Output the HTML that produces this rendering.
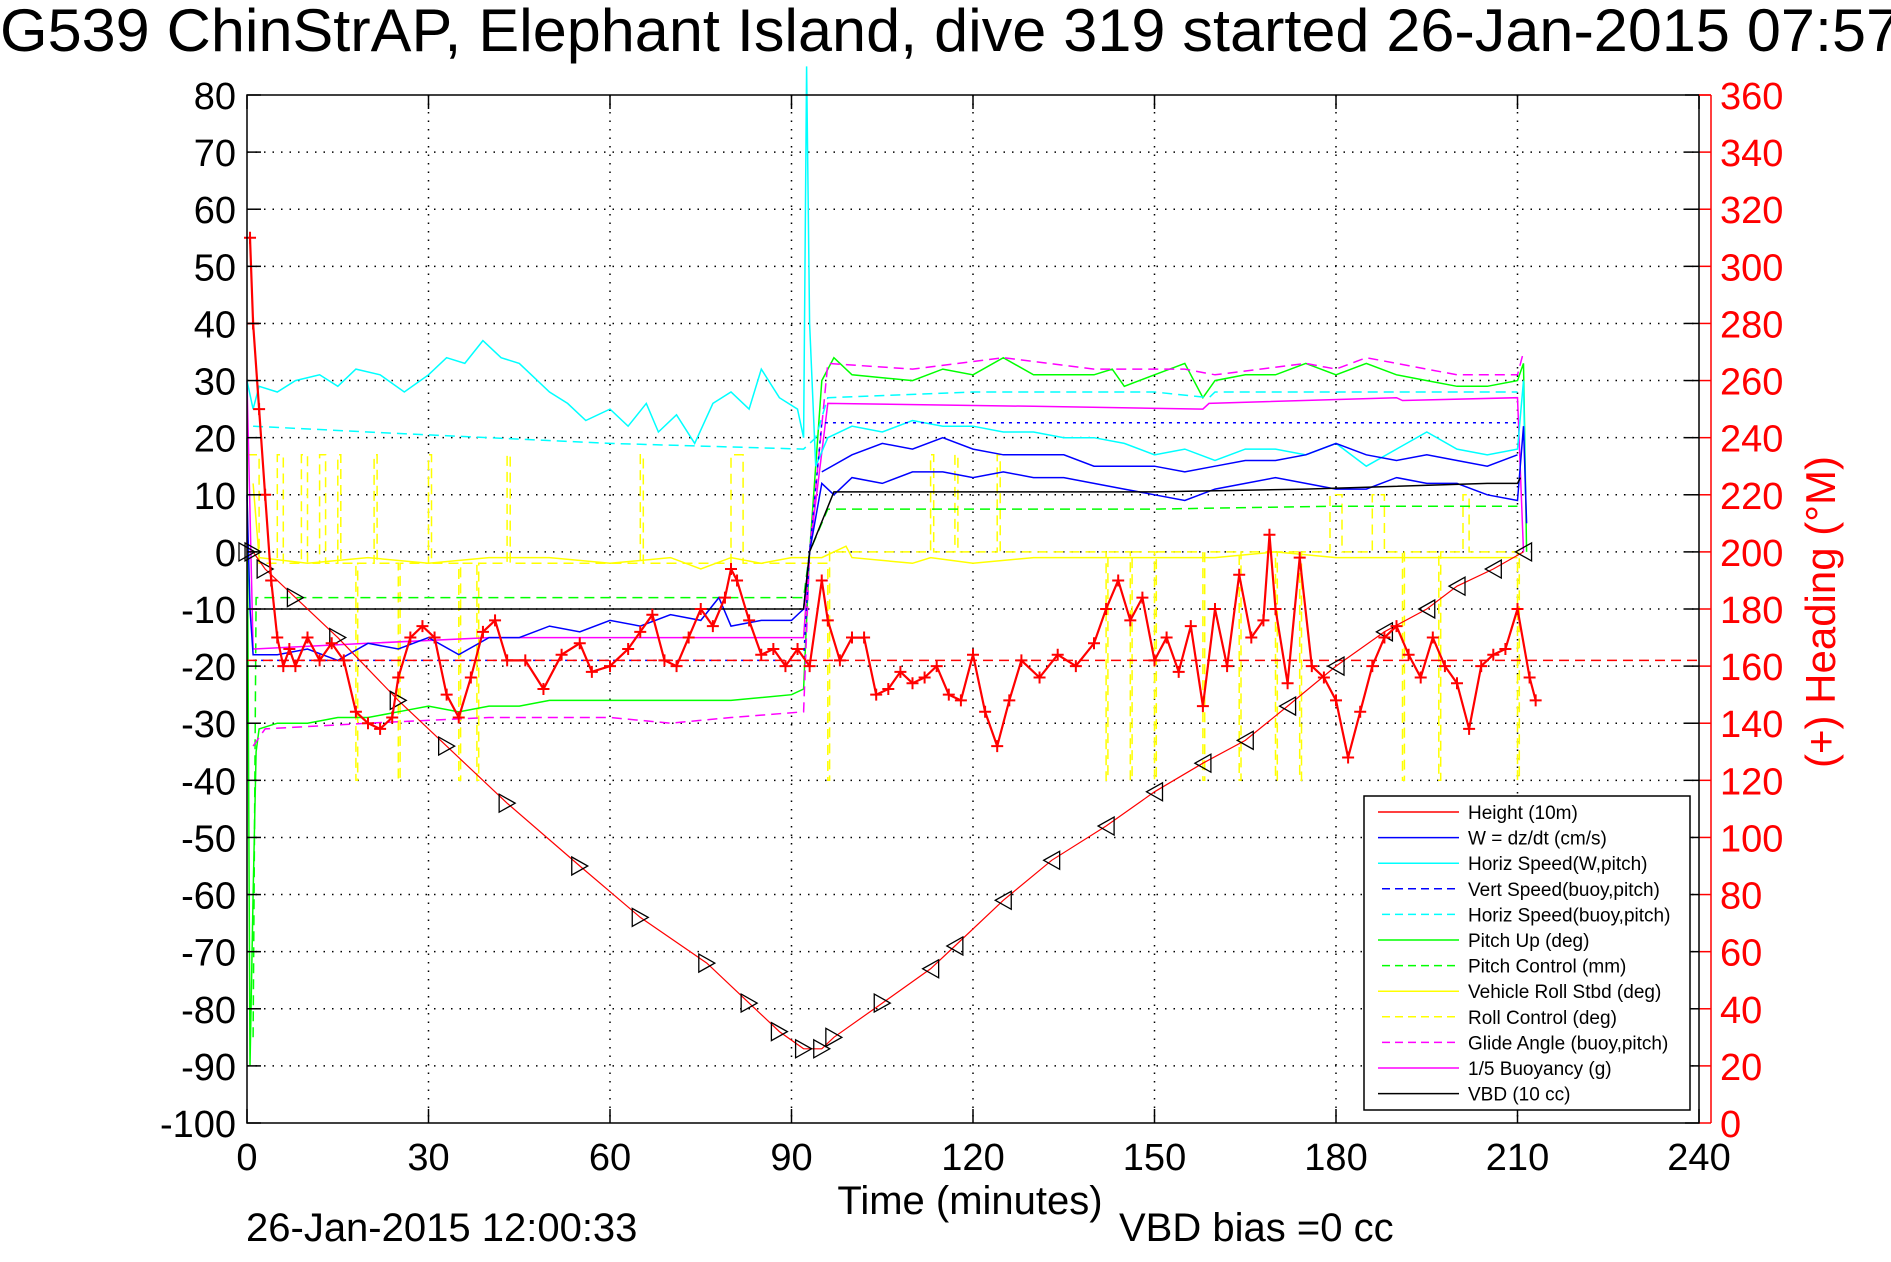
<!DOCTYPE html>
<html><head><meta charset="utf-8"><style>
html,body{margin:0;padding:0;background:#fff;}
svg{display:block;font-family:"Liberation Sans",Arial,sans-serif;}
</style></head><body>
<svg id="chart" width="1891" height="1262" viewBox="0 0 1891 1262" xmlns="http://www.w3.org/2000/svg">
<rect x="0" y="0" width="1891" height="1262" fill="#fff"/>
<text x="0" y="51" font-size="60" textLength="1900" lengthAdjust="spacingAndGlyphs">G539 ChinStrAP, Elephant Island, dive 319 started 26-Jan-2015 07:57</text>
<g id="grid"></g>
<g id="series"></g>
<g id="axes"></g>
<g id="legend"></g>
<text x="970" y="1214" font-size="40" text-anchor="middle">Time (minutes)</text>
<text x="246" y="1241" font-size="40">26-Jan-2015 12:00:33</text>
<text x="1119" y="1241" font-size="40">VBD bias =0 cc</text>
<text transform="translate(1835,612) rotate(-90)" font-size="42" fill="#f00" text-anchor="middle">(+) Heading (°M)</text>
</svg>
<script>
const xTicks=[0,30,60,90,120,150,180,210,240];
const yTicks=[80,70,60,50,40,30,20,10,0,-10,-20,-30,-40,-50,-60,-70,-80,-90,-100];
const hTicks=[0,20,40,60,80,100,120,140,160,180,200,220,240,260,280,300,320,340,360];
const height10m=[[0,0],[1,0],[3,-3],[8,-8],[15,-15],[25,-26],[33,-34],[43,-44],[55,-55],[65,-64],[76,-72],[83,-79],[88,-84],[92,-87],[95,-87],[97,-85],[105,-79],[113,-73],[117,-69],[125,-61],[133,-54],[142,-48],[150,-42],[158,-37],[165,-33],[172,-27],[180,-20],[188,-14],[195,-10],[200,-6],[206,-3],[211,0]];
const wDzdt=[[0,10],[0.5,-10],[1,-18],[5,-18],[10,-17],[15,-19],[20,-16],[25,-17],[30,-15],[35,-18],[40,-15],[45,-15],[50,-13],[55,-14],[60,-12],[65,-13],[70,-11],[75,-12],[78,-8],[80,-13],[85,-12],[90,-12],[92,-10],[93,0],[95,12],[97,10],[100,13],[105,12],[110,14],[115,14],[120,13],[125,14],[130,13],[135,13],[140,12],[145,11],[150,10],[155,9],[160,11],[165,12],[170,13],[175,12],[180,11],[185,11],[190,13],[195,12],[200,12],[205,10],[210,9],[211,22],[211.5,5]];
const wAlt=[[95,14],[100,17],[105,19],[110,18],[115,20],[120,18],[125,17],[130,17],[135,17],[140,15],[145,15],[150,15],[155,14],[160,15],[165,16],[170,16],[175,17],[180,19],[185,17],[190,16],[195,17],[200,16],[205,15],[210,17]];
const vertSpeedBuoy=[[1,-19],[92,-19],[93,0],[95,22.6],[210,22.6]];
const horizSpeedW=[[0,30],[1,25],[2,29],[5,28],[8,30],[12,31],[15,29],[18,32],[22,31],[26,28],[30,31],[33,34],[36,33],[39,37],[42,34],[45,33],[48,30],[50,28],[53,26],[56,23],[60,25],[63,22],[66,26],[68,21],[71,24],[74,19],[77,26],[80,28],[83,25],[85,32],[88,27],[91,25],[92,20],[92.5,85],[93,40],[94,15],[96,20],[100,22],[105,21],[110,23],[115,22],[120,22],[125,21],[130,21],[135,20],[140,20],[145,19],[150,17],[155,18],[160,16],[165,18],[170,18],[175,17],[180,19],[185,15],[190,18],[195,21],[200,18],[205,17],[210,18],[211,30],[211.3,10]];
const horizSpeedBuoy=[[1,22],[20,21],[40,20],[60,19],[92,18],[94,20],[96,27],[120,28],[150,28],[159,27],[160,28],[190,28],[210,28]];
const pitchUp=[[0,20],[0.5,-90],[1,-60],[1.5,-35],[2,-31],[5,-30],[10,-30],[15,-29],[20,-29],[25,-28],[30,-27],[35,-28],[40,-27],[45,-27],[50,-26],[60,-26],[70,-26],[80,-26],[90,-25],[92,-24],[93,0],[95,30],[97,34],[100,31],[110,30],[115,32],[120,31],[125,34],[130,31],[140,31],[143,32],[145,29],[150,31],[155,33],[158,27],[160,30],[165,31],[170,31],[175,33],[180,31],[185,33],[190,31],[195,30],[200,29],[205,29],[210,30],[211,33],[211.5,0]];
const pitchControl=[[1,-85],[1.5,-8],[92,-8],[93,0],[96,7.5],[120,7.5],[150,7.5],[180,8],[210,8]];
const vehicleRoll=[[1,12],[2,-1],[10,-2],[20,-1],[30,-2],[40,-1],[50,-1],[60,-2],[70,-1],[75,-3],[80,-1],[85,-2],[90,-1],[95,-1],[99,1],[100,-1],[110,-2],[113,-1],[120,-2],[130,-1],[140,-1],[150,-1],[160,-1],[170,0],[180,-1],[190,-1],[200,-1],[210,-1]];
const rollControl=[[0,17],[2,17],[2,-2],[5,-2],[5,17],[6,17],[6,-2],[9,-2],[9,17],[10,17],[10,-2],[12,-2],[12,17],[13,17],[13,-2],[15,-2],[15,17],[15.5,17],[15.5,-2],[18,-2],[18,-40],[18.3,-40],[18.3,-2],[21,-2],[21,17],[21.5,17],[21.5,-2],[25,-2],[25,-40],[25.3,-40],[25.3,-2],[30,-2],[30,17],[30.5,17],[30.5,-2],[35,-2],[35,-40],[35.3,-40],[35.3,-2],[38,-2],[38,-40],[38.3,-40],[38.3,-2],[43,-2],[43,17],[43.5,17],[43.5,-2],[65,-2],[65,17],[65.5,17],[65.5,-2],[80,-2],[80,17],[82,17],[82,-2],[92,-2],[96,-2],[96,-40],[96.3,-40],[96.3,0],[113,0],[113,17],[113.5,17],[113.5,0],[117,0],[117,17],[117.5,17],[117.5,0],[124,0],[124,17],[124.5,17],[124.5,0],[142,0],[142,-40],[142.3,-40],[142.3,0],[146,0],[146,-40],[146.3,-40],[146.3,0],[150,0],[150,-40],[150.3,-40],[150.3,0],[158,0],[158,-40],[158.3,-40],[158.3,0],[164,0],[164,-40],[164.3,-40],[164.3,0],[170,0],[170,-40],[170.3,-40],[170.3,0],[174,0],[174,-40],[174.3,-40],[174.3,0],[179,0],[179,10],[181,10],[181,0],[186,0],[186,10],[188,10],[188,0],[191,0],[191,-40],[191.3,-40],[191.3,0],[197,0],[197,-40],[197.3,-40],[197.3,0],[201,0],[201,10],[202,10],[202,0],[210,0],[210,-40],[210.3,-40],[210.3,0]];
const glideAngle=[[1,-34],[3,-31],[20,-30],[40,-29],[60,-29],[70,-30],[80,-29],[92,-28],[93,0],[96,33],[110,32],[125,34],[140,32],[155,32],[160,31],[175,33],[180,32],[185,34],[190,33],[200,31],[210,31],[211,35]];
const buoyancy=[[0,30],[1,-17],[20,-16],[40,-15],[60,-15],[80,-15],[92,-15],[93,0],[96,26],[130,25.5],[158,25],[159,26],[190,27],[191,26.5],[210,27],[211,0]];
const vbd=[[1,-10],[92,-10],[93,0],[97,10.5],[150,10.5],[175,11],[205,12],[210,12],[210.5,13]];
const headingTimes=[0.5,1,2,3,4,5,6,7,8,10,12,14,16,18,20,22,24,25,27,29,31,33,35,37,39,41,43,46,49,52,55,57,60,63,65,67,69,71,73,75,77,79,80,81,83,85,87,89,91,93,95,96,98,100,102,104,106,108,110,112,114,116,118,120,122,124,126,128,131,134,137,140,142,144,146,148,150,152,154,156,158,160,162,164,166,168,169,170,172,174,176,178,180,182,184,186,188,190,192,194,196,198,200,202,204,206,208,210,212,213];
const headingDeg=[310,280,250,220,190,170,160,166,160,170,162,168,162,144,140,138,142,156,170,174,170,150,142,156,172,176,162,162,152,164,168,158,160,166,172,178,162,160,170,180,174,184,194,190,176,164,166,160,166,160,190,176,162,170,170,150,152,158,154,156,160,150,148,164,144,132,148,162,156,164,160,168,180,190,176,184,162,170,158,174,146,180,160,192,170,176,206,180,154,198,160,156,148,128,144,160,170,174,164,156,170,160,154,138,160,164,166,180,156,148];
const headingTarget=[162];

const NS='http://www.w3.org/2000/svg';
const X0=247,X1=1699,YT=95,YB=1123;
function X(t){return X0+(t-0)*(X1-X0)/240;}
function Y(v){return YB-(v+100)*(YB-YT)/180;}
function HY(h){return YB-h*(YB-YT)/360;}
function mk(tag,attrs,parent){const e=document.createElementNS(NS,tag);for(const k in attrs)e.setAttribute(k,attrs[k]);parent.appendChild(e);return e;}
const grid=document.getElementById('grid'),ser=document.getElementById('series'),ax=document.getElementById('axes'),leg=document.getElementById('legend');

xTicks.forEach(t=>{
  if(t>0&&t<240){const g=mk('line',{x1:X(t),x2:X(t),y1:YT,y2:YB,stroke:'#000','stroke-width':1.5,'stroke-dasharray':'1.5,7'},grid);
  
  }
  const a=mk('line',{x1:X(t),x2:X(t),y1:YB,y2:YB-14,stroke:'#000','stroke-width':1.5},ax);
  
  
  const b=mk('line',{x1:X(t),x2:X(t),y1:YT,y2:YT+14,stroke:'#000','stroke-width':1.5},ax);
  
  
  const l=mk('text',{x:X(t),y:1170,'font-size':38,'text-anchor':'middle'},ax);l.textContent=t;
  
  
});
yTicks.forEach(v=>{
  if(v<80&&v>-100){const g=mk('line',{x1:X0,x2:X1,y1:Y(v),y2:Y(v),stroke:'#000','stroke-width':1.5,'stroke-dasharray':'1.5,7'},grid);
  
  }
  const a=mk('line',{x1:X0,x2:X0+14,y1:Y(v),y2:Y(v),stroke:'#000','stroke-width':1.5},ax);
  
  
  const b=mk('line',{x1:X1-14,x2:X1,y1:Y(v),y2:Y(v),stroke:'#000','stroke-width':1.5},ax);
  
  
  const l=mk('text',{x:236,y:Y(v)+14,'font-size':38,'text-anchor':'end'},ax);l.textContent=v;
  
  
});
hTicks.forEach(h=>{
  const a=mk('line',{x1:X1,x2:1711,y1:HY(h),y2:HY(h),stroke:'#f00','stroke-width':1.5},ax);
  
  
  const l=mk('text',{x:1720,y:HY(h)+14,'font-size':38,fill:'#f00'},ax);l.textContent=h;
  
  
});
const box=mk('rect',{x:X0,y:YT,width:X1-X0,height:YB-YT,fill:'none',stroke:'#000','stroke-width':1.5},ax);


const ra=mk('line',{x1:1711,x2:1711,y1:YT,y2:YB,stroke:'#f00','stroke-width':1.5},ax);


const rt=mk('line',{x1:X1,x2:1711,y1:YT,y2:YT,stroke:'#f00','stroke-width':1.5},ax);



function line(data,color,dash,name,w){
  const p=mk('polyline',{points:data.map(d=>X(d[0]).toFixed(1)+','+Y(d[1]).toFixed(1)).join(' '),fill:'none',stroke:color,'stroke-width':w||1.5},ser);
  if(dash)p.setAttribute('stroke-dasharray',dash);
  
  
}
line(rollControl,'#ff0','10,6','roll-control-line');
line(vehicleRoll,'#ff0',null,'vehicle-roll-line');
line(pitchControl,'#0f0','10,6','pitch-control-line');
line(pitchUp,'#0f0',null,'pitch-up-line');
line(glideAngle,'#f0f','10,6','glide-angle-line');
line(buoyancy,'#f0f',null,'buoyancy-line');
line(horizSpeedBuoy,'#0ff','10,6','horiz-speed-buoy-line');
line(horizSpeedW,'#0ff',null,'horiz-speed-w-line');
line(vertSpeedBuoy,'#00f','3,5','vert-speed-buoy-line');
line(wAlt,'#00f',null,'w-ascent-line');
line(wDzdt,'#00f',null,'w-dzdt-line');
line(vbd,'#000',null,'vbd-line');
const ht=mk('line',{x1:X0,x2:X1,y1:HY(headingTarget[0]),y2:HY(headingTarget[0]),stroke:'#f00','stroke-width':1.5,'stroke-dasharray':'10,6'},ser);


line(height10m,'#f00',null,'height-line',1.2);
height10m.forEach((d,i)=>{
  const x=X(d[0]),y=Y(d[1]);
  const right=i<=16;
  const tri=mk('polygon',{points:right?`${x-8},${y-9} ${x+8},${y} ${x-8},${y+9}`:`${x+8},${y-9} ${x-8},${y} ${x+8},${y+9}`,fill:'none',stroke:'#000','stroke-width':1.3},ser);
  
  
});
let hp='';
headingTimes.forEach((t,i)=>{const x=X(t),y=HY(headingDeg[i]);hp+=`M${x-6},${y}H${x+6}M${x},${y-6}V${y+6}`;});
const hl=mk('polyline',{points:headingTimes.map((t,i)=>X(t).toFixed(1)+','+HY(headingDeg[i]).toFixed(1)).join(' '),fill:'none',stroke:'#f00','stroke-width':2.2},ser);


const hc=mk('path',{d:hp,stroke:'#f00','stroke-width':2,fill:'none'},ser);



const legNames=['Height (10m)','W = dz/dt (cm/s)','Horiz Speed(W,pitch)','Vert Speed(buoy,pitch)','Horiz Speed(buoy,pitch)','Pitch Up (deg)','Pitch Control (mm)','Vehicle Roll Stbd (deg)','Roll Control (deg)','Glide Angle (buoy,pitch)','1/5 Buoyancy (g)','VBD (10 cc)'];
const legColors=['#f00','#00f','#0ff','#00f','#0ff','#0f0','#0f0','#ff0','#ff0','#f0f','#f0f','#000'];
const legDash=[0,0,0,1,1,0,1,0,1,1,0,0];
const lb=mk('rect',{x:1364,y:796,width:326,height:314,fill:'#fff',stroke:'#000','stroke-width':1.5},leg);


legNames.forEach((n,i)=>{
  const y=812+i*25.6;
  const s=mk('line',{x1:legDash[i]?1382:1378,x2:1459,y1:y,y2:y,stroke:legColors[i],'stroke-width':1.5},leg);
  if(legDash[i])s.setAttribute('stroke-dasharray','8,5');
  
  
  const t=mk('text',{x:1468,y:y+7,'font-size':19},leg);t.textContent=n;
  
  
});
</script>
</body></html>
